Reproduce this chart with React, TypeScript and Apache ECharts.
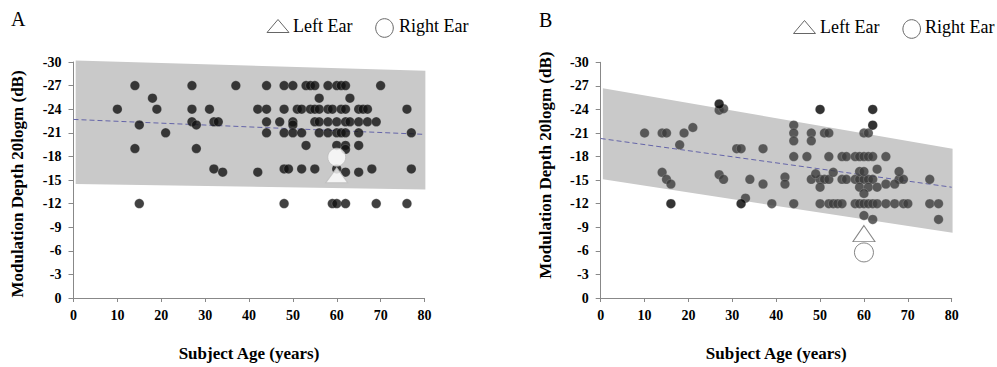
import React, { useEffect, useRef } from "react";
import * as echarts from "echarts";

// ---------- Panel A data ----------
const aAges = [
  14, 27, 37, 44, 48, 50, 53, 54, 55, 58, 60, 61, 62, 70,
  18, 56, 63,
  10, 19, 27, 31, 42, 44, 48, 51, 52, 54, 55, 56, 58, 59, 61, 62, 65, 66, 67, 76,
  27, 32, 33, 44, 47, 50, 55, 56, 58, 60, 62, 63, 65, 67, 69,
  15, 28, 50,
  21, 44, 48, 50, 52, 56, 58, 60, 61, 62, 65, 77,
  53, 60, 62, 65,
  14, 28, 62,
  32, 48, 49, 52, 55, 60, 68, 77,
  34, 42, 62, 65,
  15, 48, 59, 60, 62, 69, 76,
];
const aValues = [
  -27, -27, -27, -27, -27, -27, -27, -27, -27, -27, -27, -27, -27, -27,
  -25.4, -25.4, -25.4,
  -24, -24, -24, -24, -24, -24, -24, -24, -24, -24, -24, -24, -24, -24, -24, -24, -24, -24, -24, -24,
  -22.4, -22.4, -22.4, -22.4, -22.4, -22.4, -22.4, -22.4, -22.4, -22.4, -22.4, -22.4, -22.4, -22.4, -22.4,
  -22, -22, -22,
  -21, -21, -21, -21, -21, -21, -21, -21, -21, -21, -21, -21,
  -19.4, -19.4, -19.4, -19.4,
  -19, -19, -18.9,
  -16.4, -16.4, -16.4, -16.4, -16.4, -16.4, -16.4, -16.4,
  -16, -16, -16, -16,
  -12, -12, -12, -12, -12, -12, -12,
];
const aBandAges = [0.5, 80.2];
const aBandUpper = [-30.2, -28.9];
const aBandLower = [-14.5, -13.8];
const aTrendAges = [0, 80];
const aTrendValues = [-22.7, -20.8];
const aLeftEar = [60, -15.6];
const aRightEar = [60, -17.9];

// ---------- Panel B data ----------
const bGreyAges = [
  10, 14, 15, 19, 21, 18,
  27, 28,
  31, 32, 37,
  14, 15, 16, 27, 28, 34, 37, 33, 39,
  42, 42,
  44, 44, 44, 48, 48, 51, 52, 60, 61,
  44, 47, 52, 55, 56, 58, 59, 60, 61, 62, 65,
  48, 50, 51, 52, 55, 56, 58, 59, 60, 61, 62, 68, 69, 75,
  49, 50, 53, 59, 60, 63, 68,
  59, 61, 63, 60, 65, 67,
  44, 50, 52, 53, 54, 55, 58, 59, 60, 61, 62, 63, 65, 67, 69, 70, 75, 77,
  60, 62, 77,
];
const bGreyValues = [
  -21, -21, -21, -21, -21.7, -19.5,
  -23.9, -24.1,
  -19, -19, -19,
  -16, -15.1, -14.5, -15.7, -15.1, -15.1, -14.5, -12.7, -12,
  -15.4, -14.5,
  -22, -21, -20, -21, -20, -21, -21, -21, -21,
  -18, -18, -18, -18, -18, -18, -18, -18, -18, -18, -18,
  -15.1, -15.1, -15.1, -15.1, -15.1, -15.1, -15.1, -15.1, -15.1, -15.1, -15.1, -15.1, -15.1, -15.1,
  -15.8, -14.1, -16, -16.1, -16.1, -16.4, -16.1,
  -14.1, -14.1, -14.1, -13.3, -14.5, -14.5,
  -12, -12, -12, -12, -12, -12, -12, -12, -12, -12, -12, -12, -12, -12, -12, -12, -12, -12,
  -10.5, -10, -10,
];
const bBlackAges = [27, 16, 32, 50, 62, 62];
const bBlackValues = [-24.7, -12, -12, -24, -24, -22];
const bBandAges = [0.5, 80.2];
const bBandUpper = [-26.7, -19.0];
const bBandLower = [-15.1, -8.3];
const bTrendAges = [0, 80];
const bTrendValues = [-20.3, -14.1];
const bLeftEar = [60, -8.2];
const bRightEar = [60, -5.8];

const SERIF = "'Liberation Serif', 'Times New Roman', serif";
const yTitle = "Modulation Depth 20logm (dB)";
const xTitle = "Subject Age (years)";

function pairs(xs: number[], ys: number[]) {
  return xs.map((x, i) => [x, ys[i]]);
}

function bandSeries(idx: number, ages: number[], upper: number[], lower: number[]) {
  return {
    type: "custom",
    xAxisIndex: idx,
    yAxisIndex: idx,
    z: 1,
    silent: true,
    data: ages.map((a, i) => [a, upper[i], lower[i]]),
    encode: { x: 0, y: [1, 2] },
    renderItem: (params: any, api: any) => {
      if (params.dataIndex !== 0) return null;
      const top = ages.map((a, i) => api.coord([a, upper[i]]));
      const bottom = ages.map((a, i) => api.coord([a, lower[i]])).reverse();
      return {
        type: "polygon",
        shape: { points: top.concat(bottom) },
        style: { fill: "#c9c9c9" },
      };
    },
  };
}

function axesFor(idx: number, nameGapY: number, namePad: number[]) {
  const axisLine = { show: true, onZero: false, lineStyle: { color: "#888", width: 1 } };
  const label = { color: "#000", fontFamily: SERIF, fontWeight: "bold", fontSize: 14 };
  const nameStyle = { color: "#000", fontFamily: SERIF, fontWeight: "bold", fontSize: 17 };
  return {
    x: {
      type: "value",
      gridIndex: idx,
      min: 0,
      max: 80,
      interval: 10,
      axisLine,
      axisTick: { show: true, length: 4, lineStyle: { color: "#888" } },
      axisLabel: { ...label, margin: 10 },
      splitLine: { show: false },
      name: xTitle,
      nameLocation: "middle",
      nameGap: 47,
      nameTextStyle: nameStyle,
    },
    y: {
      type: "value",
      gridIndex: idx,
      min: -30,
      max: 0,
      interval: 3,
      inverse: true,
      axisLine,
      axisTick: { show: true, length: 5, lineStyle: { color: "#888" } },
      axisLabel: { ...label, margin: 12 },
      splitLine: { show: false },
      name: yTitle,
      nameLocation: "middle",
      nameGap: nameGapY,
      nameTextStyle: { ...nameStyle, padding: namePad },
    },
  };
}

function legendGraphics(triX: number, y: number, circX: number, leftTextX: number, rightTextX: number) {
  const stroke = "#666";
  return [
    {
      type: "polygon",
      shape: { points: [[triX, y + 6.5], [triX + 11, y - 6.5], [triX + 22, y + 6.5]] },
      style: { fill: "#fff", stroke, lineWidth: 1 },
    },
    {
      type: "text",
      x: leftTextX,
      y: y - 0.5,
      style: { text: "Left Ear", font: `18px ${SERIF}`, fill: "#000", verticalAlign: "middle" },
    },
    {
      type: "ellipse",
      shape: { cx: circX, cy: y + 2, rx: 8.8, ry: 9.3 },
      style: { fill: "#fff", stroke, lineWidth: 1 },
    },
    {
      type: "text",
      x: rightTextX,
      y: y - 0.5,
      style: { text: "Right Ear", font: `18px ${SERIF}`, fill: "#000", verticalAlign: "middle" },
    },
  ];
}

export default function App() {
  const ref = useRef<HTMLDivElement>(null);
  useEffect(() => {
    document.body.style.margin = "0";
    if (!ref.current) return;
    const chart = echarts.init(ref.current, undefined, { renderer: "svg" });
    const axA = axesFor(0, 48, [0, 8, 0, 0]);
    const axB = axesFor(1, 47, [0, 0, 0, 30]);
    const dotBorder = { borderColor: "rgba(200,200,200,0.6)", borderWidth: 0.5 };
    const earStyle = { color: "#fff", borderColor: "#666", borderWidth: 1 };
    chart.setOption({
      animation: false,
      backgroundColor: "#fff",
      grid: [
        { left: 73.5, top: 62, width: 351, height: 239 },
        { left: 600.7, top: 62.3, width: 351, height: 237.7 },
      ],
      xAxis: [axA.x, axB.x],
      yAxis: [axA.y, axB.y],
      graphic: [
        {
          type: "text",
          x: 11,
          y: 19,
          style: { text: "A", font: `20px ${SERIF}`, fill: "#000", verticalAlign: "middle" },
        },
        {
          type: "text",
          x: 539,
          y: 19.5,
          style: { text: "B", font: `20px ${SERIF}`, fill: "#000", verticalAlign: "middle" },
        },
        ...legendGraphics(267, 26, 384.5, 293, 399),
        ...legendGraphics(793.5, 27, 911.7, 820, 925),
      ],
      series: [
        bandSeries(0, aBandAges, aBandUpper, aBandLower),
        {
          type: "line",
          xAxisIndex: 0,
          yAxisIndex: 0,
          z: 2,
          symbol: "none",
          data: pairs(aTrendAges, aTrendValues),
          lineStyle: { color: "#6464a8", width: 1, type: [5, 3] },
        },
        {
          type: "scatter",
          name: "Subjects A",
          xAxisIndex: 0,
          yAxisIndex: 0,
          z: 3,
          symbolSize: 9.5,
          data: pairs(aAges, aValues),
          itemStyle: { color: "#111", ...dotBorder },
        },
        {
          type: "scatter",
          name: "Right Ear",
          xAxisIndex: 0,
          yAxisIndex: 0,
          z: 4,
          symbol: "circle",
          symbolSize: 18,
          data: [aRightEar],
          itemStyle: { ...earStyle, borderColor: "#bbb" },
        },
        {
          type: "scatter",
          name: "Left Ear",
          xAxisIndex: 0,
          yAxisIndex: 0,
          z: 4,
          symbol: "triangle",
          symbolSize: [22, 15],
          data: [aLeftEar],
          itemStyle: { ...earStyle, borderColor: "#bbb" },
        },
        bandSeries(1, bBandAges, bBandUpper, bBandLower),
        {
          type: "line",
          xAxisIndex: 1,
          yAxisIndex: 1,
          z: 2,
          symbol: "none",
          data: pairs(bTrendAges, bTrendValues),
          lineStyle: { color: "#6464a8", width: 1, type: [5, 3] },
        },
        {
          type: "scatter",
          name: "Subjects B",
          xAxisIndex: 1,
          yAxisIndex: 1,
          z: 3,
          symbolSize: 9.5,
          data: pairs(bGreyAges, bGreyValues),
          itemStyle: { color: "#3c3c3c", ...dotBorder },
        },
        {
          type: "scatter",
          name: "Outliers B",
          xAxisIndex: 1,
          yAxisIndex: 1,
          z: 3,
          symbolSize: 9.5,
          data: pairs(bBlackAges, bBlackValues),
          itemStyle: { color: "#000", ...dotBorder },
        },
        {
          type: "scatter",
          name: "Left Ear",
          xAxisIndex: 1,
          yAxisIndex: 1,
          z: 4,
          symbol: "triangle",
          symbolSize: [22, 16],
          data: [bLeftEar],
          itemStyle: earStyle,
        },
        {
          type: "scatter",
          name: "Right Ear",
          xAxisIndex: 1,
          yAxisIndex: 1,
          z: 4,
          symbol: "circle",
          symbolSize: 19,
          data: [bRightEar],
          itemStyle: earStyle,
        },
      ],
    });
    return () => chart.dispose();
  }, []);
  return <div ref={ref} style={{ width: 997, height: 367 }} />;
}
